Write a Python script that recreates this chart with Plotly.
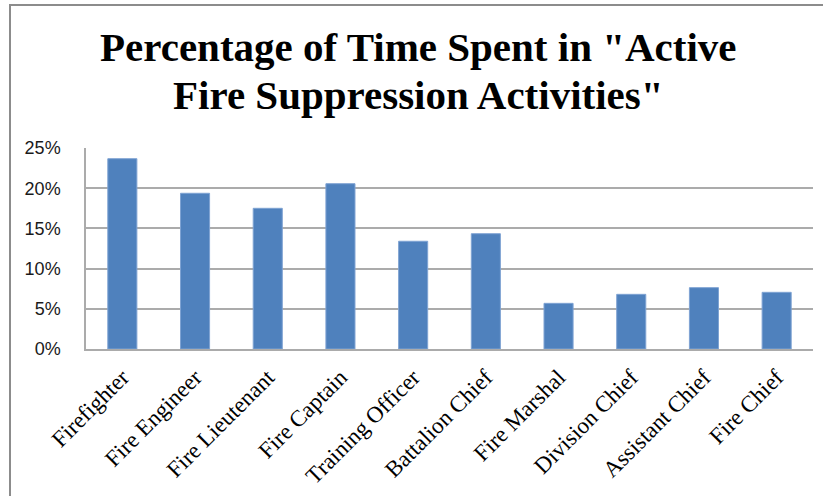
import plotly.graph_objects as go

# Share of working time spent in active fire suppression, by rank
ranks = [
    "Firefighter", "Fire Engineer", "Fire Lieutenant", "Fire Captain",
    "Training Officer", "Battalion Chief", "Fire Marshal", "Division Chief",
    "Assistant Chief", "Fire Chief",
]
share = [0.2367, 0.1937, 0.1750, 0.2056, 0.1340, 0.1434, 0.0568, 0.0680, 0.0763, 0.0705]
y_ticks = [0, 0.05, 0.10, 0.15, 0.20, 0.25]
title_lines = ['Percentage of Time Spent in "Active', 'Fire Suppression Activities"']

W, H = 823, 496
ML, MR, MT, MB = 86, 10, 148, 147
PW, PH = W - ML - MR, H - MT - MB

fig = go.Figure(
    go.Bar(
        x=ranks,
        y=share,
        marker=dict(color="#4F81BD", line=dict(color="#7FA3D3", width=1)),
        width=0.4,
    )
)

fig.update_layout(
    width=W,
    height=H,
    margin=dict(l=ML, r=MR, t=MT, b=MB, pad=0, autoexpand=False),
    paper_bgcolor="white",
    plot_bgcolor="white",
    showlegend=False,
)

# Two-line bold serif heading, each line placed on its own baseline
for line, y_px in zip(title_lines, [47, 95]):
    fig.add_annotation(
        text=f"<b>{line}</b>",
        xref="paper",
        yref="paper",
        x=(418 - ML) / PW,
        y=1 + (MT - y_px) / PH,
        xanchor="center",
        yanchor="middle",
        showarrow=False,
        font=dict(family="Liberation Serif", size=41, color="black"),
    )

fig.update_yaxes(
    range=[0, 0.25],
    tickvals=y_ticks,
    tickformat=".0%",
    showgrid=True,
    gridcolor="#ABABAB",
    gridwidth=1.5,
    showline=True,
    linecolor="#ABABAB",
    linewidth=1.5,
    zeroline=False,
    ticks="",
    ticklabelstandoff=20,
    tickfont=dict(family="Liberation Sans", size=18, color="#1a1a1a"),
    automargin=False,
    fixedrange=True,
)

fig.update_xaxes(
    showline=True,
    linecolor="#ABABAB",
    linewidth=1.5,
    ticks="",
    tickangle=-45,
    ticklabelstandoff=4,
    tickfont=dict(family="Liberation Serif", size=23, color="black"),
    automargin=False,
    fixedrange=True,
)

# Chart-area frame (open at the right and bottom edges of the page)
fig.add_shape(
    type="rect",
    xref="paper",
    yref="paper",
    x0=(10 - ML) / PW,
    x1=(W + 10 - ML) / PW,
    y0=-(MB + 20) / PH,
    y1=1 + (MT - 5) / PH,
    line=dict(color="#8C8C8C", width=2),
    layer="below",
)

fig.write_html("out.html")
